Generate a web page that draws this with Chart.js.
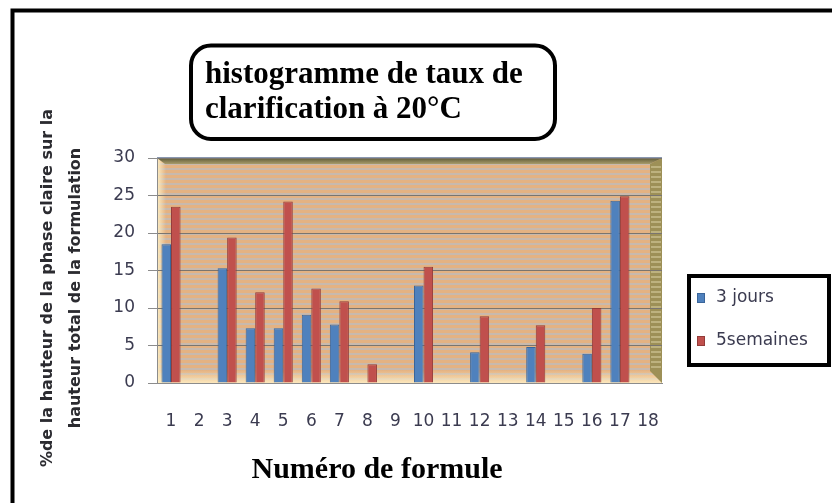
<!DOCTYPE html>
<html>
<head>
<meta charset="utf-8">
<script src="https://cdn.jsdelivr.net/npm/chart.js@4.4.0/dist/chart.umd.min.js"></script>
<style>
  html, body { margin: 0; padding: 0; background: #fff; }
  canvas { display: block; }
</style>
</head>
<body>
<canvas id="bar-chart" width="832" height="503"></canvas>
<script>
// data
const formules = ['1','2','3','4','5','6','7','8','9','10','11','12','13','14','15','16','17','18'];
const jours3 = [18.5, null, 15.3, 7.3, 7.3, 9.1, 7.8, null, null, 13.0, null, 4.1, null, 4.8, null, 3.9, 24.3, null];
const semaines5 = [23.5, null, 19.4, 12.1, 24.2, 12.6, 10.9, 2.5, null, 15.5, null, 8.9, null, 7.7, null, 10.0, 24.9, null];
const yTicks = [0, 5, 10, 15, 20, 25, 30];

const titleLines = ['histogramme de taux de', 'clarification à 20°C'];
const yTitleLines = ['%de la hauteur de la phase claire sur la', 'hauteur total de la formulation'];
const xTitle = 'Numéro de formule';

Chart.defaults.font.family = '"DejaVu Sans"';

//background of the plot, made to look like the excel 3d wall
const wallPlugin = {
  id: 'wall',
  beforeDraw(chart) {
    const ctx = chart.ctx;
    const a = chart.chartArea;
    ctx.save();
    ctx.fillStyle = '#fff';
    ctx.fillRect(0, 0, chart.width, chart.height);

    ctx.fillStyle = '#E4B282';
    ctx.fillRect(a.left, a.top, a.width, a.height);
    ctx.fillStyle = 'rgba(192,186,184,0.8)';
    for (let y = a.top + 5; y < a.bottom; y += 5) {
      ctx.fillRect(a.left, y, a.width, 2);
    }

    // floor
    let g = ctx.createLinearGradient(0, a.bottom - 13, 0, a.bottom);
    g.addColorStop(0, 'rgba(252,228,180,0)');
    g.addColorStop(1, 'rgba(253,234,192,0.95)');
    ctx.fillStyle = g;
    ctx.fillRect(a.left, a.bottom - 13, a.width, 13);

    // left edge
    g = ctx.createLinearGradient(a.left, 0, a.left + 9, 0);
    g.addColorStop(0, 'rgba(255,240,196,0.95)');
    g.addColorStop(1, 'rgba(255,240,196,0)');
    ctx.fillStyle = g;
    ctx.fillRect(a.left, a.top, 9, a.height);

    // right side wall
    ctx.fillStyle = '#9D9057';
    ctx.beginPath();
    ctx.moveTo(a.right - 12, a.top + 6);
    ctx.lineTo(a.right, a.top);
    ctx.lineTo(a.right, a.bottom);
    ctx.lineTo(a.right - 12, a.bottom - 12);
    ctx.closePath();
    ctx.fill();
    ctx.fillStyle = 'rgba(215,205,160,0.55)';
    for (let y = a.top + 8; y < a.bottom - 12; y += 5) {
      ctx.fillRect(a.right - 11, y, 10, 2);
    }

    // top band
    g = ctx.createLinearGradient(0, a.top, 0, a.top + 6);
    g.addColorStop(0, '#5F5B38');
    g.addColorStop(1, '#A89B6A');
    ctx.fillStyle = g;
    ctx.beginPath();
    ctx.moveTo(a.left, a.top);
    ctx.lineTo(a.right, a.top);
    ctx.lineTo(a.right - 12, a.top + 6);
    ctx.lineTo(a.left + 8, a.top + 6);
    ctx.closePath();
    ctx.fill();
    ctx.fillStyle = '#8A98B0';
    ctx.fillRect(a.left, a.top - 1, a.width, 2);
    ctx.restore();
  }
};

//frame, title box, axis titles and the boxed legend
const decorPlugin = {
  id: 'decor',
  afterDraw(chart) {
    const ctx = chart.ctx;
    ctx.save();

    ctx.strokeStyle = '#000';
    ctx.lineWidth = 4;
    ctx.beginPath();
    ctx.moveTo(12.5, chart.height);
    ctx.lineTo(12.5, 10.5);
    ctx.lineTo(chart.width, 10.5);
    ctx.stroke();

    ctx.beginPath();
    ctx.roundRect(191, 45.5, 364, 93.5, 20);
    ctx.fillStyle = '#fff';
    ctx.fill();
    ctx.stroke();

    ctx.fillStyle = '#000';
    ctx.font = 'bold 31px "Liberation Serif"';
    ctx.textAlign = 'left';
    ctx.textBaseline = 'alphabetic';
    ctx.fillText(titleLines[0], 205, 83);
    ctx.fillText(titleLines[1], 205, 118);

    ctx.font = 'bold 30px "Liberation Serif"';
    ctx.textAlign = 'center';
    ctx.fillText(xTitle, 377, 478);

    ctx.save();
    ctx.translate(48, 288);
    ctx.rotate(-Math.PI / 2);
    ctx.font = 'bold 16px "DejaVu Sans"';
    ctx.fillStyle = '#2b2b30';
    ctx.textBaseline = 'middle';
    ctx.textAlign = 'center';
    ctx.fillText(yTitleLines[0], 0, 0);
    ctx.fillText(yTitleLines[1], 0, 28);
    ctx.restore();

    ctx.lineWidth = 4;
    ctx.strokeStyle = '#000';
    ctx.strokeRect(689, 276, 140, 89);
    chart.data.datasets.forEach(function(ds, i) {
      const y = 298 + i * 43;
      ctx.fillStyle = ds.backgroundColor;
      ctx.fillRect(697, y - 5, 8, 10);
      ctx.lineWidth = 1;
      ctx.strokeStyle = ds.borderColor;
      ctx.strokeRect(697.5, y - 4.5, 7, 9);
      ctx.fillStyle = '#3b3b50';
      ctx.font = '17px "DejaVu Sans"';
      ctx.textAlign = 'left';
      ctx.textBaseline = 'middle';
      ctx.fillText(ds.label, 716, y);
    });
    ctx.restore();
  }
};

new Chart(document.getElementById('bar-chart'), {
  type: 'bar',
  data: {
    labels: formules,
    datasets: [
      {
        label: '3 jours',
        data: jours3,
        backgroundColor: '#4F81BD',
        borderColor: '#3A659A',
        borderWidth: 1
      },
      {
        label: '5semaines',
        data: semaines5,
        backgroundColor: '#C0504D',
        borderColor: '#933B39',
        borderWidth: 1
      }
    ]
  },
  options: {
    responsive: false,
    animation: false,
    categoryPercentage: 0.68,
    barPercentage: 1.0,
    layout: { padding: { left: 0, top: 158, right: 170, bottom: 0 } },
    plugins: {
      legend: { display: false },
      title: { display: false },
      tooltip: { enabled: false }
    },
    scales: {
      x: {
        ticks: { color: '#3b3b50', font: { size: 17 }, padding: 28, autoSkip: false, maxRotation: 0 },
        grid: { display: false, drawTicks: false },
        border: { display: true, color: '#8c8c8c' },
        afterFit: function(scale) { scale.height = 120; }
      },
      y: {
        min: yTicks[0],
        max: yTicks[yTicks.length - 1],
        ticks: { stepSize: 5, color: '#3b3b50', font: { size: 17 }, padding: 13 },
        grid: { color: '#7a756f', tickLength: 9, tickColor: '#8c8c8c' },
        border: { color: '#8c8c8c' },
        afterFit: function(scale) { scale.width = 157; }
      }
    }
  },
  plugins: [wallPlugin, decorPlugin]
});
</script>
</body>
</html>
